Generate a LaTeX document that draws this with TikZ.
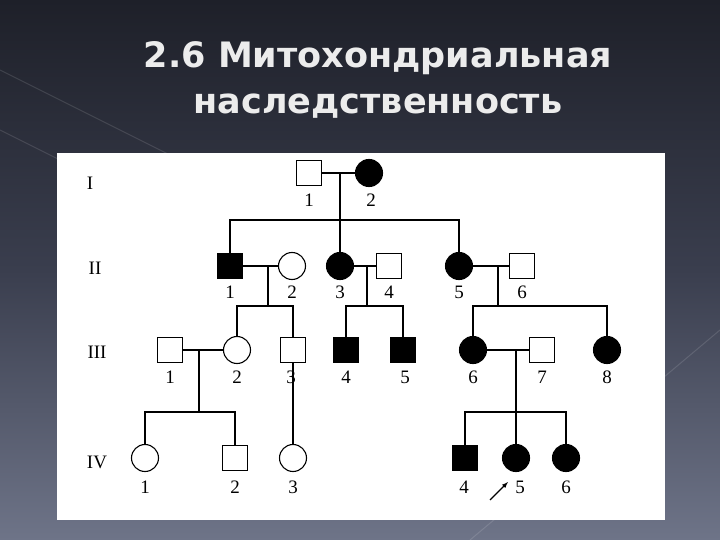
\documentclass[tikz,border=0pt]{standalone}
\usepackage{fontspec}
\setmainfont{Liberation Serif}
\newfontfamily\titlefont{DejaVu Sans}
\tikzset{
 sq/.style={draw,line width=1.1pt,minimum size=25pt,inner sep=0pt},
 ci/.style={draw,circle,line width=1.1pt,minimum size=27pt,inner sep=0pt},
 af/.style={fill=black},
 un/.style={fill=white},
 ln/.style={line width=1.1pt},
 lab/.style={font=\fontsize{19}{19}\selectfont},
}
\definecolor{bgA}{HTML}{1E2029}
\definecolor{bgB}{HTML}{3A3E4E}
\definecolor{bgC}{HTML}{6E7488}
\begin{document}
\begin{tikzpicture}[x=1pt,y=-1pt]
\useasboundingbox (0,0) rectangle (720,540);
\shade[top color=bgA,bottom color=bgC,middle color=bgB] (0,0) rectangle (720,540);
\draw[white,opacity=0.12,line width=1pt] (0,70) -- (260,200) (0,130) -- (200,230) (470,540) -- (720,330);
\node[font=\titlefont\bfseries\fontsize{35}{46}\selectfont,text=white!85!gray,align=center] (title) at (378,80) {2.6 Митохондриальная\\наследственность};
\fill[white] (57,153) rectangle (665,520);
% row labels
\node[lab] (r1) at (90,183) {I};
\node[lab] (r2) at (95,268) {II};
\node[lab] (r3) at (97,352) {III};
\node[lab] (r4) at (97,462) {IV};
% Gen I
\node[sq,un] (i1) at (309,173) {};
\node[ci,af] (i2) at (369,173) {};
\node[lab] at (309,200) {1};
\node[lab] at (371,200) {2};
% Gen II
\node[sq,af] (ii1) at (230,266) {};
\node[ci,un] (ii2) at (292,266) {};
\node[ci,af] (ii3) at (340,266) {};
\node[sq,un] (ii4) at (389,266) {};
\node[ci,af] (ii5) at (459,266) {};
\node[sq,un] (ii6) at (522,266) {};
\foreach \x/\t in {230/1,292/2,340/3,389/4,459/5,522/6} \node[lab] at (\x,292) {\t};
% Gen III
\node[sq,un] (iii1) at (170,350) {};
\node[ci,un] (iii2) at (237,350) {};
\node[sq,un] (iii3) at (293,350) {};
\node[sq,af] (iii4) at (346,350) {};
\node[sq,af] (iii5) at (403,350) {};
\node[ci,af] (iii6) at (473,350) {};
\node[sq,un] (iii7) at (542,350) {};
\node[ci,af] (iii8) at (607,350) {};
\foreach \x/\t in {170/1,237/2,291/3,346/4,405/5,473/6,542/7,607/8} \node[lab] at (\x,377) {\t};
% Gen IV
\node[ci,un] (iv1) at (145,458) {};
\node[sq,un] (iv2) at (235,458) {};
\node[ci,un] (iv3) at (293,458) {};
\node[sq,af] (iv4) at (465,458) {};
\node[ci,af] (iv5) at (516,458) {};
\node[ci,af] (iv6) at (566,458) {};
\foreach \x/\t in {145/1,235/2,293/3,464/4,520/5,566/6} \node[lab] at (\x,487) {\t};
\coordinate (a1) at (490,500);
\coordinate (a2) at (508,482);
\draw[ln,-latex] (a1) -- (a2);
% connectors
\draw[ln] (i1) -- (i2);
\draw[ln] (340,173) -- (340,220);
\draw[ln] (ii1.north) |- (340,220) -| (ii5.north);
\draw[ln] (340,220) -- (ii3.north);
\draw[ln] (ii1) -- (ii2);
\draw[ln] (268,266) -- (268,306);
\draw[ln] (iii2.north) |- (268,306) -| (iii3.north);
\draw[ln] (ii3) -- (ii4);
\draw[ln] (367,266) -- (367,306);
\draw[ln] (iii4.north) |- (367,306) -| (iii5.north);
\draw[ln] (ii5) -- (ii6);
\draw[ln] (498,266) -- (498,306);
\draw[ln] (iii6.north) |- (498,306) -| (iii8.north);
\draw[ln] (iii1) -- (iii2);
\draw[ln] (199,350) -- (199,412);
\draw[ln] (iv1.north) |- (199,412) -| (iv2.north);
\draw[ln] (iii3) -- (iv3);
\draw[ln] (iii6) -- (iii7);
\draw[ln] (516,350) -- (516,412);
\draw[ln] (iv4.north) |- (516,412) -| (iv6.north);
\draw[ln] (516,412) -- (iv5.north);
\end{tikzpicture}
\end{document}
